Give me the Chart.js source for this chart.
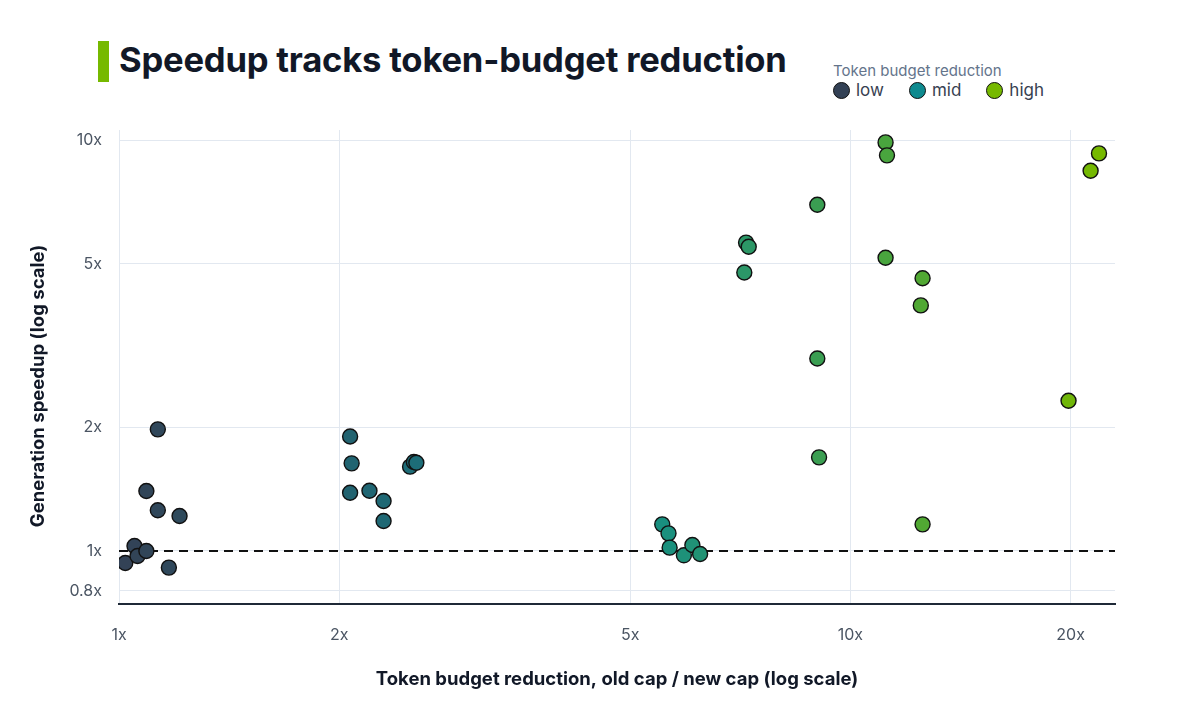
<!DOCTYPE html>
<html>
<head>
<meta charset="utf-8">
<script src="https://cdn.jsdelivr.net/npm/chart.js@4.4.1/dist/chart.umd.min.js"></script>
<style>
  html, body { margin: 0; padding: 0; background: #fff; }
  body { width: 1181px; height: 722px; position: relative; overflow: hidden; font-family: Inter, "Noto Sans", sans-serif; }
  #chartBox { position: absolute; left: 0; top: 0; width: 1181px; height: 722px; }
  .title-bar { position: absolute; left: 98px; top: 41px; width: 11px; height: 41px; background: #76b900; }
  .title { position: absolute; left: 119px; top: 38px; font-size: 34.6px; font-weight: 700; color: #111827; letter-spacing: -0.2px; white-space: nowrap; }
  .legend { position: absolute; left: 833px; top: 61px; color: #374151; }
  .legend-title { font-size: 15px; color: #64748b; margin-bottom: 0px; }
  .legend-items { display: flex; align-items: center; font-size: 17px; }
  .legend-item { display: flex; align-items: center; margin-right: 25px; }
  .dot { width: 15px; height: 15px; border-radius: 50%; border: 1.5px solid #111; margin-right: 6px; }
</style>
</head>
<body>
<div class="title-bar"></div>
<div class="title">Speedup tracks token-budget reduction</div>
<div class="legend">
  <div class="legend-title">Token budget reduction</div>
  <div class="legend-items">
    <div class="legend-item"><span class="dot" style="background:#334155"></span>low</div>
    <div class="legend-item"><span class="dot" style="background:#0e8a8f"></span>mid</div>
    <div class="legend-item"><span class="dot" style="background:#76b900"></span>high</div>
  </div>
</div>
<div id="chartBox"><canvas id="scatter"></canvas></div>
<script>
// Redução do orçamento de tokens (eixo x) e speedup de geração (eixo y)
const reduction = [
    1.02, 1.05, 1.06, 1.09, 1.09, 1.13, 1.13, 1.17, 1.21,
    2.07, 2.08, 2.07, 2.20, 2.30, 2.30, 2.50, 2.53, 2.55,
    5.53, 5.64, 5.66, 5.92, 6.08, 6.23,
    7.20, 7.26, 7.16,
    9.01, 9.01, 9.06, 11.17, 11.22, 11.17, 12.55, 12.48, 12.55,
    21.87, 21.30, 19.87
];
const speedup = [
    0.935, 1.028, 0.972, 1.00, 1.40, 1.256, 1.977, 0.911, 1.217,
    1.90, 1.634, 1.386, 1.402, 1.323, 1.183, 1.604, 1.646, 1.64,
    1.161, 1.104, 1.019, 0.976, 1.034, 0.983,
    5.63, 5.50, 4.76,
    6.96, 2.94, 1.69, 9.87, 9.18, 5.17, 4.61, 3.96, 1.161,
    9.28, 8.42, 2.32
];

const xTicks = [1, 2, 5, 10, 20];
const yTicks = [0.8, 1, 2, 5, 10];
const baseline = 1;
const xRange = [1, 23];
const yRange = [0.743, 10.58];

// Cores: slate -> teal -> verde, conforme log da redução
const colorStops = ['#334155', '#0e8a8f', '#76b900'];

function hexToRgb(h) {
    const n = parseInt(h.slice(1), 16);
    return [(n >> 16) & 255, (n >> 8) & 255, n & 255];
}

function colorFor(x) {
    const maxX = Math.max(...reduction);
    let t = Math.log(x) / Math.log(maxX);
    t = Math.min(1, Math.max(0, t));
    let a, b, f;
    if (t < 0.5) { a = hexToRgb(colorStops[0]); b = hexToRgb(colorStops[1]); f = t / 0.5; }
    else { a = hexToRgb(colorStops[1]); b = hexToRgb(colorStops[2]); f = (t - 0.5) / 0.5; }
    const c = a.map((v, i) => Math.round(v + (b[i] - v) * f));
    return `rgb(${c[0]}, ${c[1]}, ${c[2]})`;
}

const points = reduction.map((x, i) => ({ x: x, y: speedup[i] }));

const fontFamily = 'Inter, "Noto Sans", sans-serif';
const tickFont = { family: fontFamily, size: 16 };
const titleFont = { family: fontFamily, size: 18.5, weight: '700' };

// Título do eixo y desenhado à mão (fica um pouco abaixo do centro da área)
const yTitlePlugin = {
    id: 'yTitle',
    afterDraw(chart) {
        const c = chart.ctx;
        c.save();
        c.translate(38, 386);
        c.rotate(-Math.PI / 2);
        c.font = `700 ${titleFont.size}px ${fontFamily}`;
        c.fillStyle = '#111827';
        c.textAlign = 'center';
        c.textBaseline = 'middle';
        c.fillText('Generation speedup (log scale)', 0, 0);
        c.restore();
    }
};

const ctx = document.getElementById('scatter').getContext('2d');

new Chart(ctx, {
    type: 'scatter',
    data: {
        datasets: [
            {
                type: 'line',
                data: [{ x: xRange[0], y: baseline }, { x: xRange[1], y: baseline }],
                borderColor: '#111111',
                borderWidth: 1.8,
                borderDash: [9, 6],
                pointRadius: 0,
                order: 2
            },
            {
                data: points,
                backgroundColor: reduction.map(colorFor),
                borderColor: '#111111',
                borderWidth: 1.4,
                pointRadius: 7.5,
                pointHoverRadius: 7.5,
                order: 1
            }
        ]
    },
    plugins: [yTitlePlugin],
    options: {
        responsive: true,
        maintainAspectRatio: false,
        animation: false,
        layout: { padding: { left: 0, right: 66, top: 130, bottom: 0 } },
        plugins: {
            legend: { display: false },
            tooltip: { enabled: false }
        },
        scales: {
            x: {
                type: 'logarithmic',
                min: xRange[0],
                max: xRange[1],
                afterBuildTicks: s => {
                    s.ticks = xTicks.map(v => ({ value: v }));
                    s.min = xRange[0];
                    s.max = xRange[1];
                },
                afterFit: s => { s.height = 118; },
                ticks: {
                    callback: v => v + 'x',
                    color: '#4b5563',
                    font: tickFont,
                    padding: 22,
                    maxRotation: 0
                },
                grid: { color: '#e2e8f0', lineWidth: 1, drawTicks: false },
                border: { display: true, color: '#1f2937', width: 2 },
                title: {
                    display: true,
                    text: 'Token budget reduction, old cap / new cap (log scale)',
                    color: '#111827',
                    font: titleFont,
                    padding: { top: 0, bottom: 31 }
                }
            },
            y: {
                type: 'logarithmic',
                min: yRange[0],
                max: yRange[1],
                afterBuildTicks: s => {
                    s.ticks = yTicks.map(v => ({ value: v }));
                    s.min = yRange[0];
                    s.max = yRange[1];
                },
                afterFit: s => { s.width = 119; },
                ticks: {
                    callback: v => v + 'x',
                    color: '#4b5563',
                    font: tickFont,
                    padding: 17
                },
                grid: { color: '#e2e8f0', lineWidth: 1, drawTicks: false },
                border: { display: false }
            }
        }
    }
});
</script>
</body>
</html>
